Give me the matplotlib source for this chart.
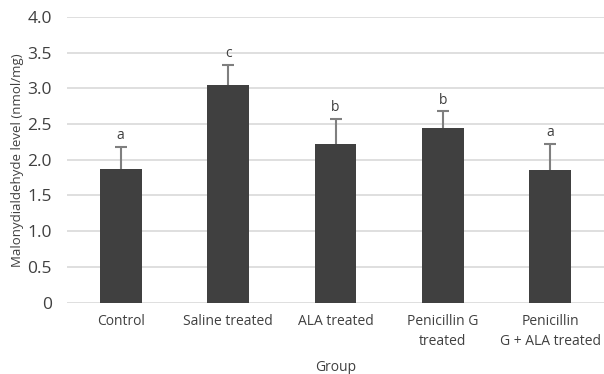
import numpy as np
import matplotlib.pyplot as plt

plt.rcParams['font.family'] = ['Open Sans', 'DejaVu Sans']

groups = ['Control', 'Saline treated', 'ALA treated', 'Penicillin G\ntreated', 'Penicillin\nG + ALA treated']
mda = [1.87, 3.04, 2.22, 2.44, 1.85]
sd = [0.31, 0.29, 0.35, 0.24, 0.37]
letters = ['a', 'c', 'b', 'b', 'a']

fig = plt.figure(figsize=(6.04, 3.74), dpi=100)
ax = fig.add_axes([0.111, 0.191, 0.889, 0.764])

x = np.arange(len(groups))
ax.bar(x, mda, width=0.39, color='#404040', zorder=3)
# error bars sit behind the bars so only the upper half shows
ax.errorbar(x, mda, yerr=[sd, sd], fmt='none', ecolor='#7f7f7f',
            elinewidth=1.5, capsize=4, capthick=1.5, zorder=2)
for xi, m, s, lab in zip(x, mda, sd, letters):
    ax.text(xi, m + s + 0.05, lab, ha='center', va='bottom', fontsize=10, color='#404040')

ax.set_xlim(-0.5, 4.5)
ax.set_ylim(0, 4.0)
ax.set_yticks(np.arange(0, 4.01, 0.5))
ax.set_yticklabels(['0'] + ['%.1f' % v for v in np.arange(0.5, 4.01, 0.5)])
ax.set_xticks(x)
ax.set_xticklabels(groups, linespacing=1.5)
ax.yaxis.grid(True, color='#d9d9d9', linewidth=1.2, zorder=0)
ax.set_axisbelow(True)
for sp in ax.spines.values():
    sp.set_visible(False)
ax.tick_params(axis='y', length=0, labelsize=12.5, colors='#404040', pad=11)
ax.tick_params(axis='x', length=0, labelsize=10, colors='#404040', pad=8)
ax.set_xlabel('Group', fontsize=10, color='#404040', labelpad=8)
ax.set_ylabel('Malonydialdehyde level (nmol/mg)', fontsize=9.5, color='#404040')
ax.yaxis.set_label_coords(-0.08, 0.5)

fig.savefig('out.png', dpi=100)
